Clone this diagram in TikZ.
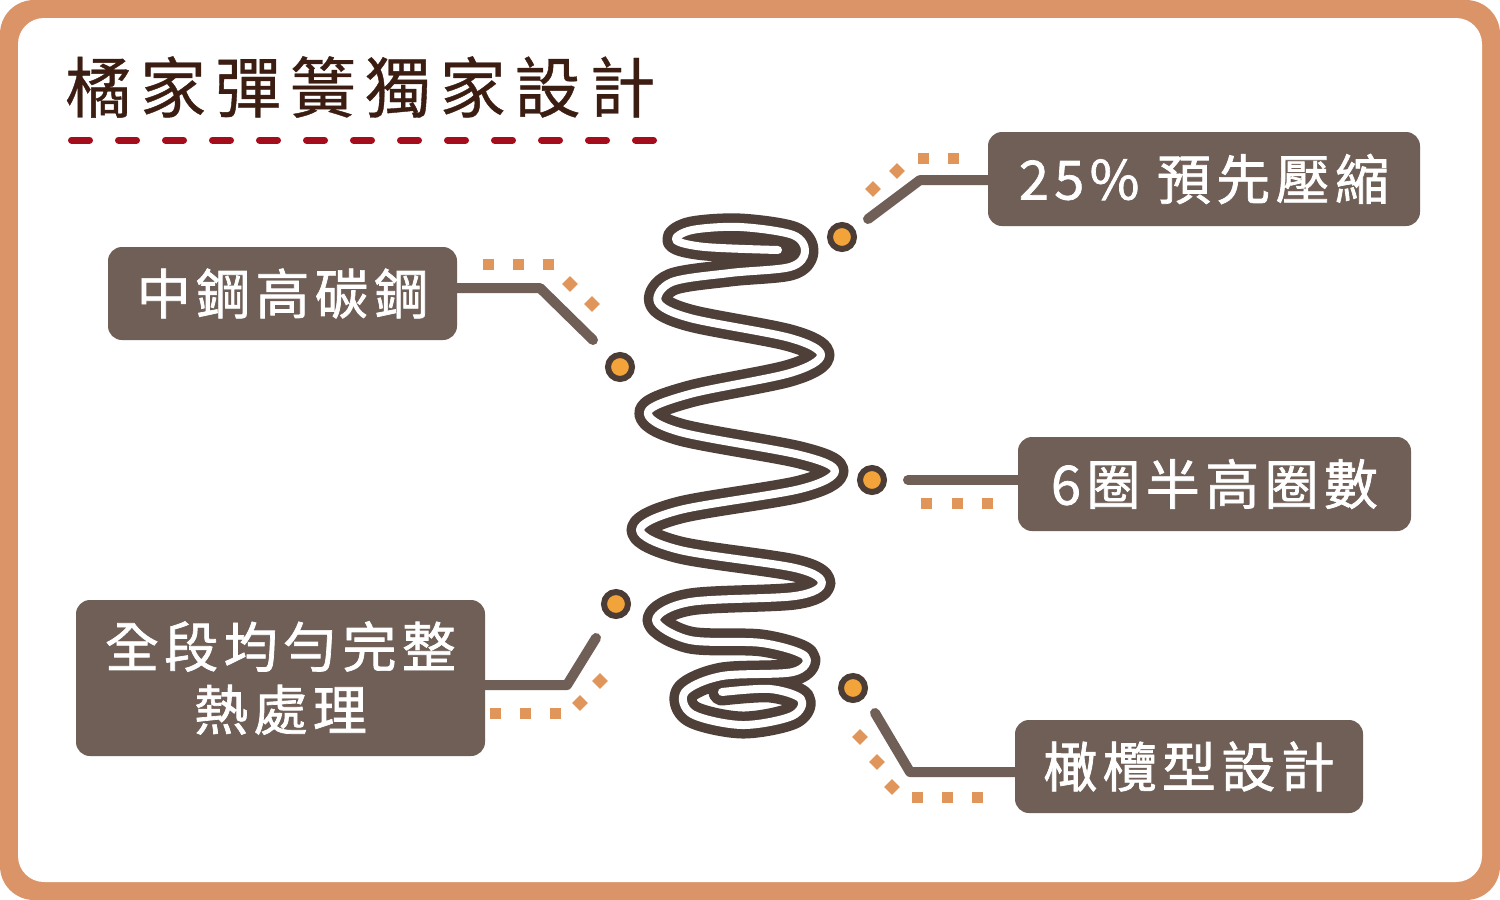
\documentclass[tikz,border=0pt]{standalone}
\usepackage{fontspec}
\newfontfamily\cjk{Noto Sans CJK TC}
\newfontfamily\cjktitle[LetterSpace=13.5,FakeBold=0.6]{Noto Sans CJK TC}
\newfontfamily\cjkbox[LetterSpace=10,FakeBold=1.3]{Noto Sans CJK TC}
\definecolor{framecol}{HTML}{DB9468}
\definecolor{titlecol}{HTML}{3C1D12}
\definecolor{dashcol}{HTML}{A30D1C}
\definecolor{boxcol}{HTML}{6F5F56}
\definecolor{springcol}{HTML}{4E4039}
\definecolor{sqcol}{HTML}{E0955A}
\definecolor{dotin}{HTML}{F2A33A}
\definecolor{dotout}{HTML}{4B3D36}
\tikzset{
  box/.style={fill=boxcol, rounded corners=14, text=white, inner sep=0pt,
    font=\fontsize{54}{63}\selectfont\cjkbox},
  conn/.style={draw=boxcol, line width=10, line cap=round, line join=round},
  dotc/.style={circle, fill=dotin, draw=dotout, line width=6, minimum size=24, inner sep=0pt},
  sqr/.pic={\fill[sqcol] (-5.5,-5.5) rectangle (5.5,5.5);}
}
\begin{document}
\begin{tikzpicture}[x=1pt,y=-1pt]
\useasboundingbox (0,0) rectangle (1500,900);
\fill[framecol, rounded corners=34] (0,0) rectangle (1500,900);
\fill[white, rounded corners=26] (18,18) rectangle (1482,882);

% title
\node[anchor=west, inner sep=0pt, text=titlecol, font=\fontsize{66}{72}\selectfont\cjktitle] (title) at (65,87) {橘家彈簧獨家設計};
\draw[dashcol, line width=7, line cap=round, dash pattern=on 18 off 29] (71.5,140) -- (660,140);

% spring
\def\springpath{plot[smooth, tension=0.55] coordinates {
 (778,250) (705,247) (676,240) (692,230) (740,227) (793,235) (805,252) (790,267)
 (730,273) (672,282) (658,302) (690,318) (790,338) (821,355) (790,373) (690,394)
 (648,412) (680,432) (800,455) (835,471) (800,489) (680,510) (640,530) (680,550)
 (795,568) (822,583) (795,596) (690,602) (656,620) (690,640) (762,643) (805,656)
 (793,672) (722,676) (685,692) (692,714) (742,725) (792,716) (801,699) (770,689) (722,692)}}
\draw[springcol, line width=27, line cap=round, line join=round] \springpath;
\draw[white, line width=8, line cap=round, line join=round] \springpath;

% boxes
\node[box, minimum width=432, minimum height=94] (b1) at (1204,179) {25\% 預先壓縮};
\node[box, minimum width=349, minimum height=93] (b2) at (282.5,293.5) {中鋼高碳鋼};
\node[box, minimum width=393, minimum height=94] (b3) at (1214.5,484) {6圈半高圈數};
\node[box, minimum width=409, minimum height=156, align=center] (b4) at (280.5,678) {全段均勻完整\\熱處理};
\node[box, minimum width=348, minimum height=93] (b5) at (1189,766.5) {橄欖型設計};

% dots
\node[dotc] (d1) at (842,237) {};
\node[dotc] (d2) at (620,367) {};
\node[dotc] (d3) at (872,480) {};
\node[dotc] (d4) at (616,604) {};
\node[dotc] (d5) at (853,688) {};

% connectors
\coordinate (k1) at (920,180);
\coordinate (e1) at (868,219);
\draw[conn] (b1.west |- k1) -- (k1) -- (e1);

\coordinate (k2) at (540,288);
\coordinate (e2) at (593,340);
\draw[conn] (b2.east |- k2) -- (k2) -- (e2);

\coordinate (e3) at (908,480);
\draw[conn] (b3.west |- e3) -- (e3);

\coordinate (k4) at (567,685);
\coordinate (e4) at (596,638);
\draw[conn] (b4.east |- k4) -- (k4) -- (e4);

\coordinate (k5) at (910,772);
\coordinate (e5) at (875,713);
\draw[conn] (b5.west |- k5) -- (k5) -- (e5);

% orange squares
\pic at (953,158) {sqr}; \pic at (923,158) {sqr};
\pic[rotate=45] at (897,171) {sqr}; \pic[rotate=45] at (873,189) {sqr};

\pic at (488,264) {sqr}; \pic at (518,264) {sqr}; \pic at (548,264) {sqr};
\pic[rotate=45] at (570,284) {sqr}; \pic[rotate=45] at (592,304) {sqr};

\pic at (926,503) {sqr}; \pic at (957,503) {sqr}; \pic at (987,503) {sqr};

\pic at (495,713) {sqr}; \pic at (525,713) {sqr}; \pic at (555,713) {sqr};
\pic[rotate=45] at (580,703) {sqr}; \pic[rotate=45] at (600,681) {sqr};

\pic[rotate=45] at (860,737) {sqr}; \pic[rotate=45] at (877,762) {sqr};
\pic[rotate=45] at (892,787) {sqr};
\pic at (917,797) {sqr}; \pic at (947,797) {sqr}; \pic at (977,797) {sqr};
\end{tikzpicture}
\end{document}
